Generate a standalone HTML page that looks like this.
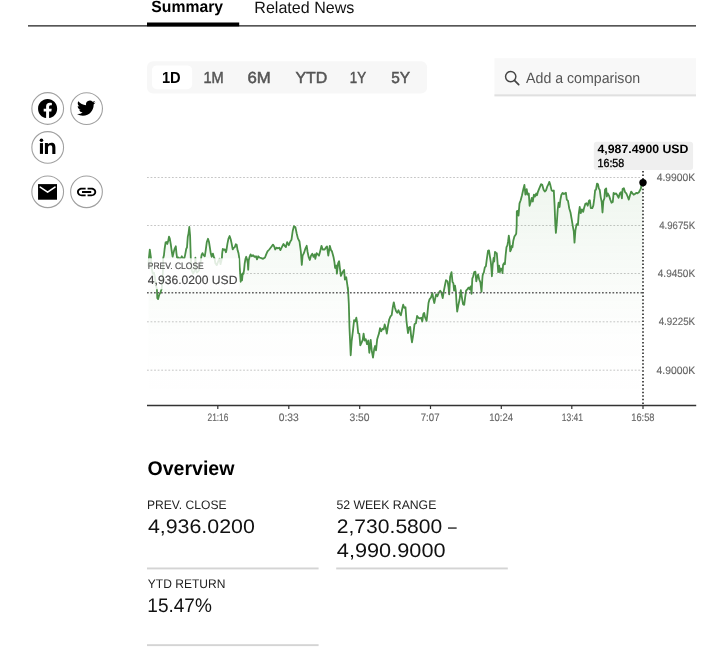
<!DOCTYPE html>
<html><head><meta charset="utf-8">
<style>
html,body{margin:0;padding:0;background:#fff;}
body{width:720px;height:649px;position:relative;overflow:hidden;font-family:"Liberation Sans",sans-serif;}
svg{position:absolute;left:0;top:0;will-change:transform;}
text{font-family:"Liberation Sans",sans-serif;white-space:pre;text-rendering:geometricPrecision;}
</style></head><body>
<svg width="720" height="649" viewBox="0 0 720 649">
<defs><linearGradient id="g" x1="0" y1="0" x2="0" y2="1"><stop offset="0" stop-color="#4e9a4a" stop-opacity="0.09"/><stop offset="0.35" stop-color="#4e9a4a" stop-opacity="0.045"/><stop offset="0.7" stop-color="#4e9a4a" stop-opacity="0.008"/><stop offset="1" stop-color="#4e9a4a" stop-opacity="0"/></linearGradient></defs>
<!-- tabs -->
<rect x="28" y="25.1" width="668" height="1.5" fill="#444"/>
<rect x="147" y="22.5" width="92.2" height="3.9" fill="#000"/>
<!-- range buttons -->
<rect x="147" y="61.2" width="280.1" height="32.3" rx="6" fill="#f7f7f7"/>
<rect x="151.9" y="65.4" width="40.3" height="23.9" rx="5" fill="#fff"/>
<!-- search -->
<rect x="494.4" y="58.2" width="201.6" height="36.2" fill="#f8f8f8"/>
<rect x="494.4" y="94.3" width="201.6" height="2.1" fill="#e0e0e0"/>
<circle cx="510.7" cy="76.6" r="5.15" fill="none" stroke="#444" stroke-width="1.45"/>
<path d="M514.4 80.3L518.7 84.6" stroke="#444" stroke-width="1.7" stroke-linecap="round"/>
<!-- social icons -->
<g fill="none" stroke="#a0a0a0" stroke-width="1.1">
<circle cx="47.7" cy="108.5" r="15.85"/><circle cx="86.6" cy="108.6" r="15.85"/>
<circle cx="47.7" cy="147.45" r="15.85"/>
<circle cx="47.7" cy="191.8" r="15.85"/><circle cx="86.5" cy="191.8" r="15.85"/>
</g>
<!-- facebook -->
<path transform="translate(47.6 108.65) scale(0.795) translate(-12 -12.073)" fill="#000" d="M24 12.073c0-6.627-5.373-12-12-12s-12 5.373-12 12c0 5.99 4.388 10.954 10.125 11.854v-8.385H7.078v-3.47h3.047V9.43c0-3.007 1.792-4.669 4.533-4.669 1.312 0 2.686.235 2.686.235v2.953H15.83c-1.491 0-1.956.925-1.956 1.874v2.25h3.328l-.532 3.47h-2.796v8.385C19.612 23.027 24 18.062 24 12.073z"/>
<!-- twitter -->
<path transform="translate(77 98.9) scale(0.772)" fill="#000" d="M23.953 4.57a10 10 0 01-2.825.775 4.958 4.958 0 002.163-2.723c-.951.555-2.005.959-3.127 1.184a4.92 4.92 0 00-8.384 4.482C7.69 8.095 4.067 6.13 1.64 3.162a4.822 4.822 0 00-.666 2.475c0 1.71.87 3.213 2.188 4.096a4.904 4.904 0 01-2.228-.616v.06a4.923 4.923 0 003.946 4.827 4.996 4.996 0 01-2.212.085 4.936 4.936 0 004.604 3.417 9.867 9.867 0 01-6.102 2.105c-.39 0-.779-.023-1.17-.067a13.995 13.995 0 007.557 2.209c9.053 0 13.998-7.496 13.998-13.985 0-.21 0-.42-.015-.63A9.935 9.935 0 0024 4.59z"/>
<!-- linkedin -->
<g fill="#000">
<circle cx="41.45" cy="140.25" r="1.8"/>
<rect x="39.9" y="143.1" width="3.1" height="10.8"/>
<path d="M44.9 143.1h3v1.45c.6-1.05 1.85-1.8 3.5-1.8 3.1 0 4 2 4 4.7v6.45h-3.1v-5.8c0-1.4-.3-2.75-1.95-2.75-1.7 0-2.35 1.2-2.35 2.8v5.75h-3.1z"/>
</g>
<!-- email -->
<rect x="38.05" y="184.1" width="18.95" height="15.6" fill="#000"/>
<path d="M40.2 187.2L47.6 192.2L55 187.2" fill="none" stroke="#fff" stroke-width="1.6" stroke-linecap="round" stroke-linejoin="round"/>
<!-- link -->
<path transform="translate(86.6 192) scale(0.96 0.84) translate(-12 -12)" fill="#000" d="M3.9 12c0-1.71 1.39-3.1 3.1-3.1h4V7H7c-2.76 0-5 2.24-5 5s2.24 5 5 5h4v-1.9H7c-1.71 0-3.1-1.39-3.1-3.1zM7.2 13.1h9.6v-2.2H7.2v2.2zM17 7h-4v1.9h4c1.71 0 3.1 1.39 3.1 3.1s-1.39 3.1-3.1 3.1h-4V17h4c2.76 0 5-2.24 5-5s-2.24-5-5-5z"/>

<!-- chart -->
<g stroke="#c6c6c6" stroke-width="1" stroke-dasharray="1.8 1.76">
<path d="M147 177.5H642M147 225.5H642M239.4 273.5H642M147 321.8H642M147 370.2H642"/>
</g>
<path id="area" d="M148.5 266.0 L148.9 258.2 L149.8 249.7 L151.0 258.2 L151.5 267.4 L152.7 273.6 L153.9 272.8 L155.0 277.4 L155.8 285.1 L156.9 289.0 L157.3 298.2 L158.1 299.0 L159.3 294.4 L160.4 292.8 L161.6 289.0 L162.3 282.8 L162.7 275.1 L163.1 267.4 L163.1 258.5 L163.9 255.5 L164.6 249.0 L165.6 242.4 L166.6 242.0 L167.3 244.0 L168.1 241.3 L169.0 236.6 L169.8 238.6 L170.8 244.3 L171.6 250.5 L172.6 256.7 L173.7 252.0 L174.7 248.6 L175.8 246.3 L176.4 252.8 L177.0 257.4 L177.7 258.2 L178.5 257.4 L179.3 258.6 L180.8 258.2 L181.8 256.3 L182.8 258.2 L184.3 258.2 L185.1 255.1 L186.2 249.0 L187.0 247.4 L187.8 236.6 L188.5 233.6 L189.3 227.0 L190.1 235.9 L190.5 249.0 L190.8 258.2 L190.9 258.2 L191.8 270.7 L193.2 273.5 L194.6 270.7 L195.4 257.7 L196.0 270.7 L196.9 272.5 L198.8 270.7 L200.2 265.1 L201.1 258.2 L201.6 255.0 L202.5 253.1 L203.7 255.4 L204.8 256.3 L205.7 250.3 L206.8 242.0 L208.0 238.8 L209.0 242.0 L209.9 247.6 L210.8 253.6 L211.7 256.8 L212.9 253.6 L213.9 257.3 L214.5 258.2 L215.4 263.3 L216.8 265.1 L218.2 261.4 L219.6 258.7 L220.5 264.2 L221.4 260.5 L221.9 258.2 L222.2 253.1 L222.8 249.0 L224.0 249.9 L224.9 249.4 L225.9 252.2 L226.5 249.9 L227.4 243.9 L228.4 238.8 L229.6 236.0 L230.7 239.2 L231.6 243.4 L232.7 249.4 L233.6 248.0 L234.8 247.1 L235.8 244.3 L236.7 244.8 L237.6 250.3 L238.5 253.1 L239.2 257.7 L239.7 267.0 L240.2 273.5 L240.7 281.8 L241.3 274.4 L242.0 280.4 L242.7 273.5 L243.4 273.9 L244.1 269.8 L244.7 263.3 L245.5 258.7 L246.2 256.8 L247.1 259.6 L247.8 263.3 L248.2 269.8 L248.7 260.5 L249.6 256.8 L250.6 254.4 L251.8 256.3 L253.0 255.1 L254.5 256.9 L256.0 256.3 L257.0 259.4 L258.2 256.3 L259.4 257.5 L261.3 258.1 L263.1 258.8 L265.0 257.5 L266.2 254.4 L267.5 251.4 L269.3 249.5 L271.2 247.0 L273.0 244.6 L274.2 246.4 L275.2 249.5 L276.5 247.7 L277.9 248.3 L279.2 247.7 L280.4 250.1 L281.6 247.7 L283.5 244.0 L284.7 245.8 L285.9 247.0 L287.2 242.1 L288.8 245.2 L290.3 241.5 L291.5 239.7 L292.7 231.0 L294.0 226.1 L295.4 227.3 L296.7 233.5 L297.9 238.4 L299.5 241.5 L299.9 244.6 L300.9 252.0 L301.8 264.9 L302.6 255.7 L303.9 253.2 L305.5 248.3 L306.7 245.8 L307.6 252.0 L308.6 256.9 L309.8 260.0 L311.0 255.7 L312.3 253.8 L313.5 256.9 L314.7 254.4 L315.3 258.8 L316.6 253.2 L317.8 254.4 L319.0 255.7 L320.3 250.7 L321.5 245.8 L322.7 249.5 L324.6 249.5 L325.8 247.7 L327.0 246.4 L328.3 255.7 L329.8 245.8 L331.0 250.1 L332.0 251.4 L333.5 256.9 L334.4 261.8 L335.1 268.0 L336.3 265.5 L336.9 273.6 L338.1 263.1 L339.1 261.2 L340.0 269.2 L340.9 276.0 L342.5 272.3 L344.1 269.9 L344.9 279.7 L346.2 277.2 L347.4 285.3 L348.3 292.7 L347.9 287.5 L348.8 303.5 L349.5 328.1 L350.7 355.3 L351.6 341.7 L352.9 331.2 L354.1 320.1 L355.3 321.4 L356.3 317.7 L357.2 323.2 L358.2 333.1 L359.3 333.7 L360.3 345.4 L361.5 342.9 L362.7 339.9 L363.6 333.7 L364.6 340.5 L365.8 339.2 L367.0 344.2 L368.3 340.5 L369.3 352.8 L370.7 339.9 L371.7 350.3 L373.0 357.7 L374.2 349.1 L375.1 346.0 L376.0 350.3 L377.2 339.2 L378.1 336.2 L379.1 333.1 L380.0 328.1 L381.2 331.2 L382.5 328.8 L383.7 329.4 L384.7 324.4 L385.8 328.1 L386.8 333.7 L388.0 325.7 L389.2 319.5 L390.5 316.4 L391.7 315.2 L392.7 307.8 L393.8 302.3 L394.8 307.2 L396.0 310.9 L397.2 312.7 L398.5 310.3 L399.7 313.4 L400.9 315.2 L402.2 309.0 L403.2 304.7 L404.3 307.8 L405.5 307.2 L406.5 321.4 L408.0 333.1 L409.0 327.5 L410.2 326.9 L411.2 336.8 L412.0 342.3 L413.3 334.3 L414.5 324.4 L414.7 324.0 L415.9 323.3 L417.1 315.9 L418.4 317.8 L419.9 318.4 L421.3 317.8 L422.3 321.5 L423.3 314.1 L424.2 312.9 L425.0 317.2 L426.6 320.9 L427.5 312.9 L428.5 303.0 L429.5 299.3 L431.0 297.5 L432.4 293.1 L433.4 299.3 L434.3 303.0 L435.3 298.1 L436.1 294.4 L437.4 296.2 L438.6 293.1 L440.2 290.7 L441.4 292.5 L442.7 298.1 L443.9 290.7 L445.1 284.5 L446.0 280.2 L447.6 281.4 L448.5 287.0 L449.2 294.4 L450.1 277.1 L451.5 272.2 L452.5 282.0 L453.4 283.3 L454.1 290.7 L455.0 285.7 L455.9 291.9 L456.6 304.2 L457.2 311.6 L458.3 305.5 L459.6 299.3 L460.8 290.1 L461.8 296.8 L463.0 304.2 L464.2 304.9 L465.2 296.8 L466.1 290.7 L467.3 289.4 L468.6 287.6 L469.8 289.4 L470.6 286.4 L471.6 293.8 L472.3 278.6 L473.2 276.3 L474.2 272.1 L475.4 271.7 L476.3 281.4 L477.2 276.8 L478.1 274.5 L479.2 279.5 L480.4 282.3 L481.5 291.9 L482.3 279.5 L482.6 275.7 L482.9 274.5 L483.9 272.1 L484.8 267.5 L485.9 266.1 L486.8 259.2 L488.0 250.9 L489.0 250.4 L489.9 256.4 L490.8 262.0 L491.4 268.5 L491.9 276.3 L492.7 264.8 L493.6 257.8 L494.2 261.5 L495.0 251.8 L495.9 252.7 L496.8 253.2 L497.5 262.0 L498.2 272.1 L499.1 265.7 L499.8 272.1 L501.0 268.5 L501.9 268.9 L502.5 273.1 L503.1 264.8 L504.2 262.9 L504.9 264.3 L505.6 255.5 L506.5 247.2 L507.4 245.3 L508.1 241.2 L508.8 235.6 L509.6 241.6 L510.2 251.3 L511.1 249.5 L511.8 245.8 L512.5 247.2 L513.3 240.7 L514.4 236.6 L515.3 235.2 L516.2 233.8 L516.7 225.0 L516.8 211.4 L518.0 210.7 L518.5 215.7 L519.5 203.4 L520.7 200.3 L522.0 195.3 L523.2 189.8 L524.4 184.9 L525.4 194.7 L526.7 189.2 L527.5 194.7 L528.8 193.5 L529.6 205.8 L530.9 201.5 L531.8 197.8 L532.8 201.5 L533.9 194.7 L534.9 196.6 L536.2 193.5 L537.0 195.3 L538.0 191.6 L539.2 188.6 L541.1 184.2 L542.3 184.9 L543.6 189.8 L544.8 191.6 L546.0 190.4 L547.2 186.7 L548.5 184.2 L549.3 181.8 L550.3 184.9 L551.6 190.4 L552.8 191.0 L553.8 190.4 L554.6 205.8 L555.3 224.3 L555.9 232.9 L556.9 221.8 L557.7 209.5 L558.6 202.7 L559.6 207.0 L560.4 199.7 L561.4 194.7 L562.7 192.9 L563.9 194.1 L565.9 192.8 L566.8 199.6 L568.0 200.8 L569.2 208.2 L570.5 212.5 L571.7 219.3 L572.9 226.7 L573.8 231.6 L574.5 242.7 L575.4 230.4 L576.6 224.2 L577.9 224.9 L578.7 214.4 L579.7 207.0 L580.7 213.1 L581.9 209.4 L583.2 211.9 L584.0 208.2 L585.3 203.9 L586.5 203.3 L587.7 205.7 L589.0 200.8 L589.8 200.2 L590.8 208.2 L592.3 208.2 L593.3 205.7 L594.3 198.4 L595.1 190.3 L596.0 189.7 L597.0 183.6 L598.0 184.2 L598.8 188.5 L599.7 189.7 L600.7 197.1 L601.7 202.0 L602.5 212.5 L603.4 200.8 L604.4 198.4 L605.0 189.7 L606.2 188.5 L606.8 196.5 L607.8 193.4 L609.1 195.9 L610.3 199.6 L611.5 202.7 L612.8 202.0 L613.6 192.8 L614.9 194.0 L616.1 193.4 L617.3 195.3 L618.6 197.7 L619.8 193.4 L621.0 192.2 L621.9 198.4 L622.6 189.1 L623.9 188.2 L625.1 192.2 L626.3 193.4 L627.6 196.5 L628.8 199.6 L630.0 195.3 L631.2 191.6 L632.5 193.4 L633.7 194.7 L634.9 194.0 L636.2 192.8 L637.4 193.4 L638.9 192.2 L640.9 188.5 L641.5 184.5 L642.8 182.6 L642.8 405 L148.5 405 Z" fill="url(#g)" stroke="none"/>
<path id="line" d="M148.5 266.0 L148.9 258.2 L149.8 249.7 L151.0 258.2 L151.5 267.4 L152.7 273.6 L153.9 272.8 L155.0 277.4 L155.8 285.1 L156.9 289.0 L157.3 298.2 L158.1 299.0 L159.3 294.4 L160.4 292.8 L161.6 289.0 L162.3 282.8 L162.7 275.1 L163.1 267.4 L163.1 258.5 L163.9 255.5 L164.6 249.0 L165.6 242.4 L166.6 242.0 L167.3 244.0 L168.1 241.3 L169.0 236.6 L169.8 238.6 L170.8 244.3 L171.6 250.5 L172.6 256.7 L173.7 252.0 L174.7 248.6 L175.8 246.3 L176.4 252.8 L177.0 257.4 L177.7 258.2 L178.5 257.4 L179.3 258.6 L180.8 258.2 L181.8 256.3 L182.8 258.2 L184.3 258.2 L185.1 255.1 L186.2 249.0 L187.0 247.4 L187.8 236.6 L188.5 233.6 L189.3 227.0 L190.1 235.9 L190.5 249.0 L190.8 258.2 L190.9 258.2 L191.8 270.7 L193.2 273.5 L194.6 270.7 L195.4 257.7 L196.0 270.7 L196.9 272.5 L198.8 270.7 L200.2 265.1 L201.1 258.2 L201.6 255.0 L202.5 253.1 L203.7 255.4 L204.8 256.3 L205.7 250.3 L206.8 242.0 L208.0 238.8 L209.0 242.0 L209.9 247.6 L210.8 253.6 L211.7 256.8 L212.9 253.6 L213.9 257.3 L214.5 258.2 L215.4 263.3 L216.8 265.1 L218.2 261.4 L219.6 258.7 L220.5 264.2 L221.4 260.5 L221.9 258.2 L222.2 253.1 L222.8 249.0 L224.0 249.9 L224.9 249.4 L225.9 252.2 L226.5 249.9 L227.4 243.9 L228.4 238.8 L229.6 236.0 L230.7 239.2 L231.6 243.4 L232.7 249.4 L233.6 248.0 L234.8 247.1 L235.8 244.3 L236.7 244.8 L237.6 250.3 L238.5 253.1 L239.2 257.7 L239.7 267.0 L240.2 273.5 L240.7 281.8 L241.3 274.4 L242.0 280.4 L242.7 273.5 L243.4 273.9 L244.1 269.8 L244.7 263.3 L245.5 258.7 L246.2 256.8 L247.1 259.6 L247.8 263.3 L248.2 269.8 L248.7 260.5 L249.6 256.8 L250.6 254.4 L251.8 256.3 L253.0 255.1 L254.5 256.9 L256.0 256.3 L257.0 259.4 L258.2 256.3 L259.4 257.5 L261.3 258.1 L263.1 258.8 L265.0 257.5 L266.2 254.4 L267.5 251.4 L269.3 249.5 L271.2 247.0 L273.0 244.6 L274.2 246.4 L275.2 249.5 L276.5 247.7 L277.9 248.3 L279.2 247.7 L280.4 250.1 L281.6 247.7 L283.5 244.0 L284.7 245.8 L285.9 247.0 L287.2 242.1 L288.8 245.2 L290.3 241.5 L291.5 239.7 L292.7 231.0 L294.0 226.1 L295.4 227.3 L296.7 233.5 L297.9 238.4 L299.5 241.5 L299.9 244.6 L300.9 252.0 L301.8 264.9 L302.6 255.7 L303.9 253.2 L305.5 248.3 L306.7 245.8 L307.6 252.0 L308.6 256.9 L309.8 260.0 L311.0 255.7 L312.3 253.8 L313.5 256.9 L314.7 254.4 L315.3 258.8 L316.6 253.2 L317.8 254.4 L319.0 255.7 L320.3 250.7 L321.5 245.8 L322.7 249.5 L324.6 249.5 L325.8 247.7 L327.0 246.4 L328.3 255.7 L329.8 245.8 L331.0 250.1 L332.0 251.4 L333.5 256.9 L334.4 261.8 L335.1 268.0 L336.3 265.5 L336.9 273.6 L338.1 263.1 L339.1 261.2 L340.0 269.2 L340.9 276.0 L342.5 272.3 L344.1 269.9 L344.9 279.7 L346.2 277.2 L347.4 285.3 L348.3 292.7 L347.9 287.5 L348.8 303.5 L349.5 328.1 L350.7 355.3 L351.6 341.7 L352.9 331.2 L354.1 320.1 L355.3 321.4 L356.3 317.7 L357.2 323.2 L358.2 333.1 L359.3 333.7 L360.3 345.4 L361.5 342.9 L362.7 339.9 L363.6 333.7 L364.6 340.5 L365.8 339.2 L367.0 344.2 L368.3 340.5 L369.3 352.8 L370.7 339.9 L371.7 350.3 L373.0 357.7 L374.2 349.1 L375.1 346.0 L376.0 350.3 L377.2 339.2 L378.1 336.2 L379.1 333.1 L380.0 328.1 L381.2 331.2 L382.5 328.8 L383.7 329.4 L384.7 324.4 L385.8 328.1 L386.8 333.7 L388.0 325.7 L389.2 319.5 L390.5 316.4 L391.7 315.2 L392.7 307.8 L393.8 302.3 L394.8 307.2 L396.0 310.9 L397.2 312.7 L398.5 310.3 L399.7 313.4 L400.9 315.2 L402.2 309.0 L403.2 304.7 L404.3 307.8 L405.5 307.2 L406.5 321.4 L408.0 333.1 L409.0 327.5 L410.2 326.9 L411.2 336.8 L412.0 342.3 L413.3 334.3 L414.5 324.4 L414.7 324.0 L415.9 323.3 L417.1 315.9 L418.4 317.8 L419.9 318.4 L421.3 317.8 L422.3 321.5 L423.3 314.1 L424.2 312.9 L425.0 317.2 L426.6 320.9 L427.5 312.9 L428.5 303.0 L429.5 299.3 L431.0 297.5 L432.4 293.1 L433.4 299.3 L434.3 303.0 L435.3 298.1 L436.1 294.4 L437.4 296.2 L438.6 293.1 L440.2 290.7 L441.4 292.5 L442.7 298.1 L443.9 290.7 L445.1 284.5 L446.0 280.2 L447.6 281.4 L448.5 287.0 L449.2 294.4 L450.1 277.1 L451.5 272.2 L452.5 282.0 L453.4 283.3 L454.1 290.7 L455.0 285.7 L455.9 291.9 L456.6 304.2 L457.2 311.6 L458.3 305.5 L459.6 299.3 L460.8 290.1 L461.8 296.8 L463.0 304.2 L464.2 304.9 L465.2 296.8 L466.1 290.7 L467.3 289.4 L468.6 287.6 L469.8 289.4 L470.6 286.4 L471.6 293.8 L472.3 278.6 L473.2 276.3 L474.2 272.1 L475.4 271.7 L476.3 281.4 L477.2 276.8 L478.1 274.5 L479.2 279.5 L480.4 282.3 L481.5 291.9 L482.3 279.5 L482.6 275.7 L482.9 274.5 L483.9 272.1 L484.8 267.5 L485.9 266.1 L486.8 259.2 L488.0 250.9 L489.0 250.4 L489.9 256.4 L490.8 262.0 L491.4 268.5 L491.9 276.3 L492.7 264.8 L493.6 257.8 L494.2 261.5 L495.0 251.8 L495.9 252.7 L496.8 253.2 L497.5 262.0 L498.2 272.1 L499.1 265.7 L499.8 272.1 L501.0 268.5 L501.9 268.9 L502.5 273.1 L503.1 264.8 L504.2 262.9 L504.9 264.3 L505.6 255.5 L506.5 247.2 L507.4 245.3 L508.1 241.2 L508.8 235.6 L509.6 241.6 L510.2 251.3 L511.1 249.5 L511.8 245.8 L512.5 247.2 L513.3 240.7 L514.4 236.6 L515.3 235.2 L516.2 233.8 L516.7 225.0 L516.8 211.4 L518.0 210.7 L518.5 215.7 L519.5 203.4 L520.7 200.3 L522.0 195.3 L523.2 189.8 L524.4 184.9 L525.4 194.7 L526.7 189.2 L527.5 194.7 L528.8 193.5 L529.6 205.8 L530.9 201.5 L531.8 197.8 L532.8 201.5 L533.9 194.7 L534.9 196.6 L536.2 193.5 L537.0 195.3 L538.0 191.6 L539.2 188.6 L541.1 184.2 L542.3 184.9 L543.6 189.8 L544.8 191.6 L546.0 190.4 L547.2 186.7 L548.5 184.2 L549.3 181.8 L550.3 184.9 L551.6 190.4 L552.8 191.0 L553.8 190.4 L554.6 205.8 L555.3 224.3 L555.9 232.9 L556.9 221.8 L557.7 209.5 L558.6 202.7 L559.6 207.0 L560.4 199.7 L561.4 194.7 L562.7 192.9 L563.9 194.1 L565.9 192.8 L566.8 199.6 L568.0 200.8 L569.2 208.2 L570.5 212.5 L571.7 219.3 L572.9 226.7 L573.8 231.6 L574.5 242.7 L575.4 230.4 L576.6 224.2 L577.9 224.9 L578.7 214.4 L579.7 207.0 L580.7 213.1 L581.9 209.4 L583.2 211.9 L584.0 208.2 L585.3 203.9 L586.5 203.3 L587.7 205.7 L589.0 200.8 L589.8 200.2 L590.8 208.2 L592.3 208.2 L593.3 205.7 L594.3 198.4 L595.1 190.3 L596.0 189.7 L597.0 183.6 L598.0 184.2 L598.8 188.5 L599.7 189.7 L600.7 197.1 L601.7 202.0 L602.5 212.5 L603.4 200.8 L604.4 198.4 L605.0 189.7 L606.2 188.5 L606.8 196.5 L607.8 193.4 L609.1 195.9 L610.3 199.6 L611.5 202.7 L612.8 202.0 L613.6 192.8 L614.9 194.0 L616.1 193.4 L617.3 195.3 L618.6 197.7 L619.8 193.4 L621.0 192.2 L621.9 198.4 L622.6 189.1 L623.9 188.2 L625.1 192.2 L626.3 193.4 L627.6 196.5 L628.8 199.6 L630.0 195.3 L631.2 191.6 L632.5 193.4 L633.7 194.7 L634.9 194.0 L636.2 192.8 L637.4 193.4 L638.9 192.2 L640.9 188.5 L641.5 184.5 L642.8 182.6" fill="none" stroke="#4a9046" stroke-width="1.8" stroke-linejoin="round" stroke-linecap="round"/>
<rect x="147" y="258.3" width="91.8" height="31" fill="#fff" fill-opacity="0.84"/>
<text x="147.80" y="268.60" font-size="9.28" fill="#555" stroke="#555" stroke-width="0.2" textLength="55.97" lengthAdjust="spacingAndGlyphs">PREV. CLOSE</text>
<text x="147.80" y="284.40" font-size="12.03" fill="#444" stroke="#444" stroke-width="0.15" textLength="89.67" lengthAdjust="spacingAndGlyphs">4,936.0200 USD</text>
<path d="M147 292.7H643" stroke="#606060" stroke-width="1.4" stroke-dasharray="1.7 1.8"/>
<path d="M643 171V405" stroke="#333" stroke-width="1.7" stroke-dasharray="1.5 2.06"/>
<path d="M147 405.5H696.2" stroke="#333" stroke-width="1.4"/>
<g stroke="#333" stroke-width="1.2"><path d="M217.8 405v4M288.8 405v4M359.7 405v4M430.5 405v4M501.3 405v4M571.8 405v4M643 405v4"/></g>
<circle cx="643" cy="182.6" r="3.7" fill="#000"/>
<rect x="593.8" y="141.8" width="99.3" height="28.1" rx="3" fill="#efefef"/>
<!-- overview separators -->
<rect x="147" y="567.5" width="171.6" height="1.9" fill="#d4d4d4"/>
<rect x="336.2" y="567.5" width="171.6" height="1.9" fill="#d4d4d4"/>
<rect x="147" y="644.2" width="171.6" height="1.9" fill="#d4d4d4"/>
<text x="151.30" y="12.00" font-size="16.23" font-weight="bold" fill="#000" textLength="71.72" lengthAdjust="spacingAndGlyphs">Summary</text>
<text x="254.31" y="12.50" font-size="16.23" fill="#111" textLength="100.00" lengthAdjust="spacingAndGlyphs">Related News</text>
<text x="161.89" y="82.90" font-size="16.09" font-weight="bold" fill="#000" textLength="18.77" lengthAdjust="spacingAndGlyphs">1D</text>
<text x="203.39" y="82.90" font-size="16.09" fill="#555" stroke="#555" stroke-width="0.5" textLength="20.26" lengthAdjust="spacingAndGlyphs">1M</text>
<text x="247.50" y="82.90" font-size="16.09" fill="#555" stroke="#555" stroke-width="0.5" textLength="23.31" lengthAdjust="spacingAndGlyphs">6M</text>
<text x="295.40" y="82.90" font-size="16.09" fill="#555" stroke="#555" stroke-width="0.5" textLength="31.91" lengthAdjust="spacingAndGlyphs">YTD</text>
<text x="349.77" y="82.90" font-size="16.09" fill="#555" stroke="#555" stroke-width="0.5" textLength="16.25" lengthAdjust="spacingAndGlyphs">1Y</text>
<text x="391.25" y="82.90" font-size="16.09" fill="#555" stroke="#555" stroke-width="0.5" textLength="18.88" lengthAdjust="spacingAndGlyphs">5Y</text>
<text x="526.10" y="83.30" font-size="14.78" fill="#555" textLength="114.10" lengthAdjust="spacingAndGlyphs">Add a comparison</text>
<text x="597.50" y="152.90" font-size="12.03" font-weight="bold" fill="#000" textLength="90.97" lengthAdjust="spacingAndGlyphs">4,987.4900 USD</text>
<text x="597.50" y="167.10" font-size="11.74" fill="#000" stroke="#000" stroke-width="0.35" textLength="26.77" lengthAdjust="spacingAndGlyphs">16:58</text>
<text x="656.70" y="180.90" font-size="10.72" fill="#666" stroke="#666" stroke-width="0.15" textLength="38.38" lengthAdjust="spacingAndGlyphs">4.9900K</text>
<text x="659.20" y="228.90" font-size="10.72" fill="#666" stroke="#666" stroke-width="0.15" textLength="35.93" lengthAdjust="spacingAndGlyphs">4.9675K</text>
<text x="657.80" y="277.20" font-size="10.72" fill="#666" stroke="#666" stroke-width="0.15" textLength="37.31" lengthAdjust="spacingAndGlyphs">4.9450K</text>
<text x="658.70" y="325.40" font-size="10.72" fill="#666" stroke="#666" stroke-width="0.15" textLength="36.42" lengthAdjust="spacingAndGlyphs">4.9225K</text>
<text x="656.50" y="373.90" font-size="10.72" fill="#666" stroke="#666" stroke-width="0.15" textLength="38.58" lengthAdjust="spacingAndGlyphs">4.9000K</text>
<text x="207.50" y="420.70" font-size="10.87" fill="#666" stroke="#666" stroke-width="0.15" textLength="20.83" lengthAdjust="spacingAndGlyphs">21:16</text>
<text x="278.80" y="420.70" font-size="10.87" fill="#666" stroke="#666" stroke-width="0.15" textLength="19.94" lengthAdjust="spacingAndGlyphs">0:33</text>
<text x="349.50" y="420.70" font-size="10.87" fill="#666" stroke="#666" stroke-width="0.15" textLength="20.04" lengthAdjust="spacingAndGlyphs">3:50</text>
<text x="420.75" y="420.70" font-size="10.87" fill="#666" stroke="#666" stroke-width="0.15" textLength="18.79" lengthAdjust="spacingAndGlyphs">7:07</text>
<text x="489.25" y="420.70" font-size="10.87" fill="#666" stroke="#666" stroke-width="0.15" textLength="23.78" lengthAdjust="spacingAndGlyphs">10:24</text>
<text x="561.75" y="420.70" font-size="10.87" fill="#666" stroke="#666" stroke-width="0.15" textLength="21.28" lengthAdjust="spacingAndGlyphs">13:41</text>
<text x="631.25" y="420.70" font-size="10.87" fill="#666" stroke="#666" stroke-width="0.15" textLength="23.28" lengthAdjust="spacingAndGlyphs">16:58</text>
<text x="147.50" y="475.00" font-size="19.86" font-weight="bold" fill="#000" textLength="86.96" lengthAdjust="spacingAndGlyphs">Overview</text>
<text x="147.02" y="508.80" font-size="12.32" fill="#222" textLength="79.49" lengthAdjust="spacingAndGlyphs">PREV. CLOSE</text>
<text x="147.90" y="533.00" font-size="19.57" fill="#111" textLength="106.97" lengthAdjust="spacingAndGlyphs">4,936.0200</text>
<text x="336.40" y="508.90" font-size="12.46" fill="#222" textLength="99.90" lengthAdjust="spacingAndGlyphs">52 WEEK RANGE</text>
<text x="336.80" y="533.00" font-size="19.57" fill="#111" textLength="105.47" lengthAdjust="spacingAndGlyphs">2,730.5800</text>
<text x="448.00" y="533.00" font-size="19.5" fill="#111" textLength="8.68" lengthAdjust="spacingAndGlyphs">–</text>
<text x="336.80" y="556.50" font-size="19.57" fill="#111" textLength="108.77" lengthAdjust="spacingAndGlyphs">4,990.9000</text>
<text x="147.80" y="587.55" font-size="12.54" fill="#222" textLength="77.55" lengthAdjust="spacingAndGlyphs">YTD RETURN</text>
<text x="147.33" y="612.00" font-size="19.71" fill="#111" textLength="64.56" lengthAdjust="spacingAndGlyphs">15.47%</text>
</svg>
</body></html>
